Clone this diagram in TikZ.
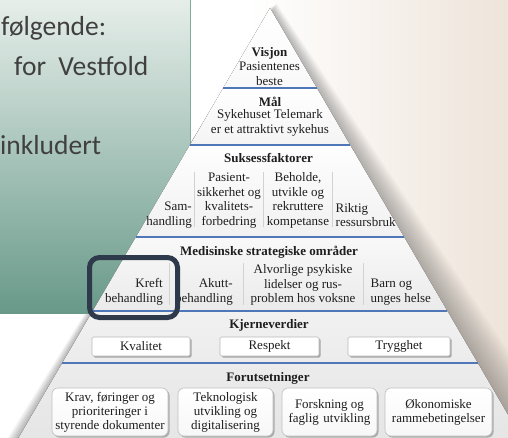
\documentclass[tikz,border=0pt]{standalone}
\usepackage{fontspec}
\setmainfont{Liberation Serif}
\newfontfamily\slidefont{Carlito}
\usetikzlibrary{shadows}

\definecolor{bgbeige}{RGB}{238,228,218}
\definecolor{panelTop}{RGB}{230,238,234}
\definecolor{panelBottom}{RGB}{104,153,137}
\definecolor{panelEdge}{RGB}{128,172,158}
\definecolor{paneltextcol}{RGB}{64,64,64}
\definecolor{inkdark}{RGB}{30,30,30}
\definecolor{sepblue}{RGB}{79,118,182}
\definecolor{focusnavy}{RGB}{46,57,76}

\begin{document}
\begin{tikzpicture}[x=1pt,y=-1pt,
  paneltext/.style={font=\slidefont\fontsize{27.5}{33}\selectfont, text=paneltextcol, inner sep=0pt, anchor=base west},
  title/.style={font=\bfseries\fontsize{13}{14.5}\selectfont, text=inkdark, inner sep=0pt},
  body/.style={font=\fontsize{13}{14.5}\selectfont, text=inkdark, inner sep=0pt, align=center},
  sepline/.style={draw=sepblue, line width=1.4pt},
  colsep/.style={draw=gray!35, line width=0.6pt},
  valuebox/.style={draw=gray!55, fill=white, line width=0.6pt, rounded corners=1.5pt,
    minimum height=19pt, inner sep=0pt, font=\fontsize{13}{14.5}\selectfont, text=inkdark,
    drop shadow={shadow xshift=1.6pt, shadow yshift=-1.6pt, fill=gray!75, opacity=0.9}},
  basebox/.style={draw=gray!50, top color=white, bottom color=gray!6, line width=0.6pt,
    rounded corners=6pt, minimum height=48pt, inner sep=0pt, align=center,
    font=\fontsize{13}{14}\selectfont, text=inkdark,
    drop shadow={shadow xshift=1.6pt, shadow yshift=-1.6pt, fill=gray!70, opacity=0.9}},
  focus/.style={draw=focusnavy, line width=5pt, rounded corners=10pt, inner sep=0pt}
]
\useasboundingbox (0,0) rectangle (508,438);
\clip (0,0) rectangle (508,438);

% slide background
\fill[white] (0,0) rectangle (508,438);
\fill[left color=white, right color=bgbeige] (250,0) rectangle (508,438);

% pyramid corner points
\coordinate (A) at (270,8);
\coordinate (L1) at (223.2,88);  \coordinate (R1) at (316.8,88);
\coordinate (L2) at (189.9,145); \coordinate (R2) at (350.1,145);
\coordinate (L3) at (136.0,237); \coordinate (R3) at (404.0,237);
\coordinate (L4) at (92.7,311);  \coordinate (R4) at (447.3,311);
\coordinate (L5) at (62.3,363);  \coordinate (R5) at (477.7,363);
\coordinate (L6) at (17.3,440);  \coordinate (R6) at (522.7,440);

% soft shadow behind the pyramid, strongest along the right flank
\foreach \d in {3,6,...,45}
  \fill[black, opacity=0.02] (270+0.15*\d, 8-0.1*\d) -- (522.7+\d, 440) -- (17.3-0.25*\d, 440) -- cycle;

% text panel on the left
\fill[top color=panelTop, bottom color=panelBottom] (0,0) rectangle (190,313);
\draw[panelEdge, line width=1pt] (190,0) -- (190,313);
\node[paneltext] (p1) at (1,36) {følgende:};
\node[paneltext] (p2) at (14,76) {for\hspace{0.45em}Vestfold};
\node[paneltext] (p3) at (0,155) {inkludert};

% pyramid layers
\fill[top color=white, bottom color=gray!5] (A) -- (R1) -- (L1) -- cycle;
\fill[top color=white, bottom color=gray!9] (L1) -- (R1) -- (R2) -- (L2) -- cycle;
\fill[top color=gray!1, bottom color=gray!11] (L2) -- (R2) -- (R3) -- (L3) -- cycle;
\fill[top color=gray!5, bottom color=gray!16] (L3) -- (R3) -- (R4) -- (L4) -- cycle;
\fill[top color=gray!11, bottom color=gray!15] (L4) -- (R4) -- (R5) -- (L5) -- cycle;
\fill[top color=gray!15, bottom color=gray!20] (L5) -- (R5) -- (R6) -- (L6) -- cycle;

\draw[sepline] (L1) -- (R1);
\draw[sepline] (L2) -- (R2);
\draw[sepline] (L3) -- (R3);
\draw[sepline] (L4) -- (R4);
\draw[sepline] (L5) -- (R5);

% Visjon and Mål
\node[title] (visjon) at (269.5,53) {Visjon};
\node[body] (visjontxt) at (269.5,74) {Pasientenes\\beste};
\node[title] (maal) at (270,102) {Mål};
\node[body] (maaltxt) at (270,123) {Sykehuset Telemark\\er et attraktivt sykehus};

% Suksessfaktorer
\node[title] (suks) at (268.5,158) {Suksessfaktorer};
\draw[colsep] (194,172) -- (194,227);
\draw[colsep] (263,172) -- (263,227);
\draw[colsep] (332,172) -- (332,227);
\node[body, align=right, anchor=east] (s1) at (192,215) {Sam-\\handling};
\node[body] (s2) at (229,200.5) {Pasient-\\sikkerhet og\\kvalitets-\\forbedring};
\node[body] (s3) at (298,200.5) {Beholde,\\utvikle og\\rekruttere\\kompetanse};
\node[body, align=left, anchor=west] (s4) at (335.5,215) {Riktig\\ressursbruk};

% Medisinske strategiske områder
\node[title] (med) at (269,252) {Medisinske strategiske områder};
\draw[colsep] (169,263) -- (169,305);
\draw[colsep] (243,263) -- (243,305);
\draw[colsep] (363,263) -- (363,305);
\node[body, align=right, anchor=east] (m1) at (163,292) {Kreft\\behandling};
\node[body, align=right, anchor=east] (m2) at (233,292) {Akutt-\\behandling};
\node[body] (m3) at (303,285) {Alvorlige psykiske\\lidelser og rus-\\problem hos voksne};
\node[body, align=left, anchor=west] (m4) at (370.5,292) {Barn og\\unges helse};

% Kjerneverdier
\node[title] (kjerne) at (269,325) {Kjerneverdier};
\node[valuebox, minimum width=98pt] (kval) at (141,346.5) {Kvalitet};
\node[valuebox, minimum width=99pt] (resp) at (269.5,346.5) {Respekt};
\node[valuebox, minimum width=102pt] (tryg) at (399,346.5) {Trygghet};

% Forutsetninger
\node[title] (forut) at (268,378) {Forutsetninger};
\node[basebox, minimum width=116pt] (f1) at (110,412) {Krav, føringer og\\prioriteringer i\\styrende dokumenter};
\node[basebox, minimum width=95pt] (f2) at (225.5,412) {Teknologisk\\utvikling og\\digitalisering};
\node[basebox, minimum width=95pt] (f3) at (329.5,412) {Forskning og\\faglig\hspace{0.35em}utvikling};
\node[basebox, minimum width=107pt] (f4) at (438.5,412) {Økonomiske\\rammebetingelser};

% highlight around cancer treatment
\node[focus, minimum width=88pt, minimum height=60pt] (focusbox) at (133.5,287.5) {};
\end{tikzpicture}
\end{document}
